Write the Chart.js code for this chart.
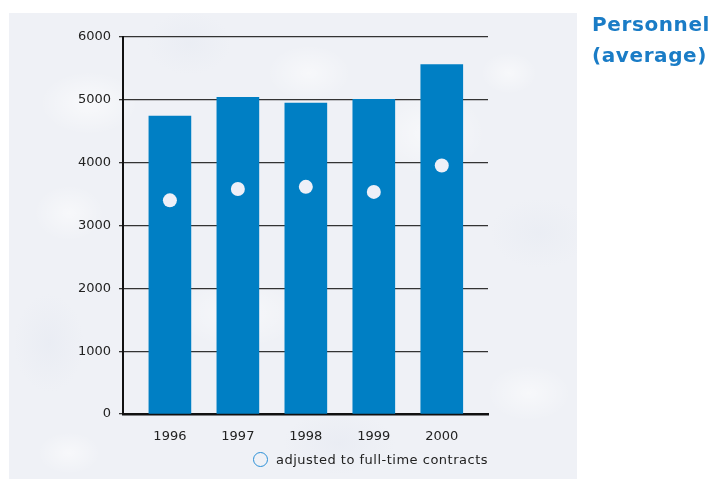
<!DOCTYPE html>
<html>
<head>
<meta charset="utf-8">
<script src="https://cdn.jsdelivr.net/npm/chart.js@4/dist/chart.umd.min.js"></script>
<style>
  html, body { margin: 0; padding: 0; background: #fff; }
  #wrap { position: relative; width: 720px; height: 479px; overflow: hidden; }
  /* snowy panel behind the chart */
  #panel {
    position: absolute; left: 9px; top: 13px; width: 568px; height: 466px;
    background:
      radial-gradient(ellipse 70px 45px at 80px 90px, rgba(255,255,255,0.6), rgba(255,255,255,0) 70%),
      radial-gradient(ellipse 90px 50px at 230px 300px, rgba(255,255,255,0.5), rgba(255,255,255,0) 70%),
      radial-gradient(ellipse 80px 60px at 420px 120px, rgba(255,255,255,0.55), rgba(255,255,255,0) 70%),
      radial-gradient(ellipse 60px 40px at 520px 380px, rgba(255,255,255,0.5), rgba(255,255,255,0) 70%),
      radial-gradient(ellipse 60px 40px at 300px 60px, rgba(255,255,255,0.5), rgba(255,255,255,0) 70%),
      radial-gradient(ellipse 40px 30px at 500px 60px, rgba(255,255,255,0.5), rgba(255,255,255,0) 70%),
      radial-gradient(ellipse 45px 30px at 60px 440px, rgba(255,255,255,0.5), rgba(255,255,255,0) 70%),
      radial-gradient(ellipse 50px 70px at 40px 330px, rgba(226,230,240,0.4), rgba(226,230,240,0) 70%),
      radial-gradient(ellipse 80px 45px at 330px 430px, rgba(226,230,240,0.4), rgba(226,230,240,0) 70%),
      radial-gradient(ellipse 70px 50px at 530px 220px, rgba(228,232,241,0.4), rgba(228,232,241,0) 70%),
      radial-gradient(ellipse 60px 45px at 180px 30px, rgba(228,232,241,0.4), rgba(228,232,241,0) 70%),
      radial-gradient(ellipse 50px 40px at 60px 200px, rgba(255,255,255,0.5), rgba(255,255,255,0) 70%),
      #eff1f6;
  }
  canvas { position: absolute; left: 0; top: 0; }
  #title {
    position: absolute; left: 592px; top: 9px;
    font-family: "DejaVu Sans", sans-serif; font-weight: 700; font-size: 20px;
    letter-spacing: 0.6px; line-height: 31px; color: #1a7cc6;
  }
  #legend {
    position: absolute; left: 253px; top: 452px;
    font-family: "DejaVu Sans", sans-serif; font-size: 13px; letter-spacing: 0.5px; color: #222;
    display: flex; align-items: center;
  }
  #legend .dot {
    display: inline-block; width: 13px; height: 13px; border-radius: 50%;
    border: 1.5px solid #2b8fd6; margin-right: 8px;
  }
</style>
</head>
<body>
<div id="wrap">
  <div id="panel"></div>
  <canvas id="chart" width="720" height="479"></canvas>
  <div id="title">Personnel<br>(average)</div>
  <div id="legend"><span class="dot"></span>adjusted to full-time contracts</div>
</div>
<script>
const years = [1996, 1997, 1998, 1999, 2000];
const personnel = [4740, 5040, 4950, 5010, 5560];
const fullTime = [3400, 3580, 3615, 3535, 3955];
const yTicks = [0, 1000, 2000, 3000, 4000, 5000, 6000];

const fontFamily = '"DejaVu Sans", sans-serif';

new Chart(document.getElementById('chart'), {
  data: {
    datasets: [
      {
        type: 'scatter',
        order: 0,
        data: years.map((y, i) => ({ x: y, y: fullTime[i] })),
        pointRadius: 7,
        pointHoverRadius: 7,
        pointBackgroundColor: '#eef0f8',
        pointBorderWidth: 0
      },
      {
        type: 'bar',
        order: 1,
        data: years.map((y, i) => ({ x: y, y: personnel[i] })),
        backgroundColor: '#007fc4',
        barThickness: 42
      }
    ]
  },
  options: {
    responsive: false,
    animation: false,
    layout: { padding: { left: 0, right: 232, top: 37, bottom: 0 } },
    plugins: { legend: { display: false }, tooltip: { enabled: false } },
    scales: {
      x: {
        type: 'linear',
        offset: false,
        min: 1995.31,
        max: 2000.68,
        afterBuildTicks: scale => { scale.ticks = years.map(v => ({ value: v })); },
        afterFit: scale => { scale.height = 65; },
        grid: { display: false, drawTicks: false, offset: false },
        border: { color: '#111', width: 2.5 },
        ticks: {
          padding: 15,
          color: '#222',
          font: { family: fontFamily, size: 13 },
          callback: v => String(v)
        }
      },
      y: {
        min: 0,
        max: 6000,
        afterBuildTicks: scale => { scale.ticks = yTicks.map(v => ({ value: v })); },
        afterFit: scale => { scale.width = 123; },
        grid: { color: '#333', lineWidth: 1.3, tickLength: 4 },
        border: { color: '#111', width: 2 },
        ticks: {
          padding: 8,
          color: '#222',
          font: { family: fontFamily, size: 13 },
          callback: v => String(v)
        }
      }
    }
  }
});
</script>
</body>
</html>
